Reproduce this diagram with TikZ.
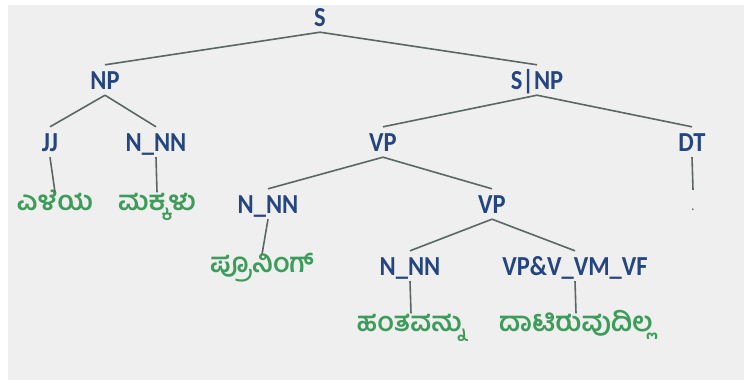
\documentclass[tikz,border=0pt]{standalone}
\usepackage{fontspec}
\usepackage{graphicx}
\setmainfont{Carlito}
\newfontfamily\kanfont[Script=Kannada]{Hind Mysuru}
\definecolor{bgray}{HTML}{EFEFEF}
\definecolor{lblue}{HTML}{24457F}
\definecolor{kgreen}{HTML}{3E9C5A}
\definecolor{edgec}{HTML}{5B6762}
\newcommand\tlab[1]{\scalebox{0.98}[1.1]{#1}}
\tikzset{
  lab/.style={font=\fontsize{25}{25}\selectfont\bfseries, text=lblue, inner xsep=0pt, inner ysep=6pt, text height=18pt, text depth=0pt},
  leaf/.style={font=\kanfont\fontsize{27}{27}\selectfont\bfseries, text=kgreen, inner xsep=0pt, inner ysep=3pt, text height=15pt, text depth=6pt},
  dotleaf/.style={font=\fontsize{14}{14}\selectfont, text=edgec, inner xsep=0pt, inner ysep=0pt, text height=20pt, text depth=0pt},
  edge/.style={draw=edgec, line width=1.6pt}
}
\begin{document}
\begin{tikzpicture}[x=1pt,y=-1pt]
\useasboundingbox (0,0) rectangle (744,380);
\fill[white] (0,0) rectangle (744,380);
\fill[bgray] (8,5) rectangle (744,380);
% labels
\node[lab] (s) at (320,17) {\tlab{S}};
\node[lab] (np) at (105,80) {\tlab{NP}};
\node[lab] (snp) at (537,80) {\tlab{S|NP}};
\node[lab] (jj) at (50,142) {\tlab{JJ}};
\node[lab] (nn1) at (156,142) {\tlab{N\_NN}};
\node[lab] (vp1) at (383,142) {\tlab{VP}};
\node[lab] (dt) at (692,142) {\tlab{DT}};
\node[lab] (nn2) at (268,204) {\tlab{N\_NN}};
\node[lab] (vp2) at (492,204) {\tlab{VP}};
\node[lab] (nn3) at (410,266) {\tlab{N\_NN}};
\node[lab] (vpv) at (575,266) {\tlab{VP\&V\_VM\_VF}};
% leaves
\node[leaf] (w1) at (55,206) {ಎಳೆಯ};
\node[leaf] (w2) at (157,206) {ಮಕ್ಕಳು};
\node[leaf] (w3) at (262,268) {ಪ್ರೂನಿಂಗ್};
\node[leaf] (w4) at (411,327) {ಹಂತವನ್ನು};
\node[leaf] (w5) at (576,327) {ದಾಟಿರುವುದಿಲ್ಲ};
\node[dotleaf] (w6) at (693,200) {.};
% edges
\draw[edge] (s.south) -- (np.north);
\draw[edge] (s.south) -- (snp.north);
\draw[edge] (np.south) -- (jj.north);
\draw[edge] (np.south) -- (nn1.north);
\draw[edge] (snp.south) -- (vp1.north);
\draw[edge] (snp.south) -- (dt.north);
\draw[edge] (vp1.south) -- (nn2.north);
\draw[edge] (vp1.south) -- (vp2.north);
\draw[edge] (vp2.south) -- (nn3.north);
\draw[edge] (vp2.south) -- (vpv.north);
\draw[edge] (jj.south) -- (w1.north);
\draw[edge] (nn1.south) -- (w2.north);
\draw[edge] (nn2.south) -- (w3.north);
\draw[edge] (dt.south) -- (w6.north);
\draw[edge] (nn3.south) -- (w4.north);
\draw[edge] (vpv.south) -- (w5.north);
\end{tikzpicture}
\end{document}
